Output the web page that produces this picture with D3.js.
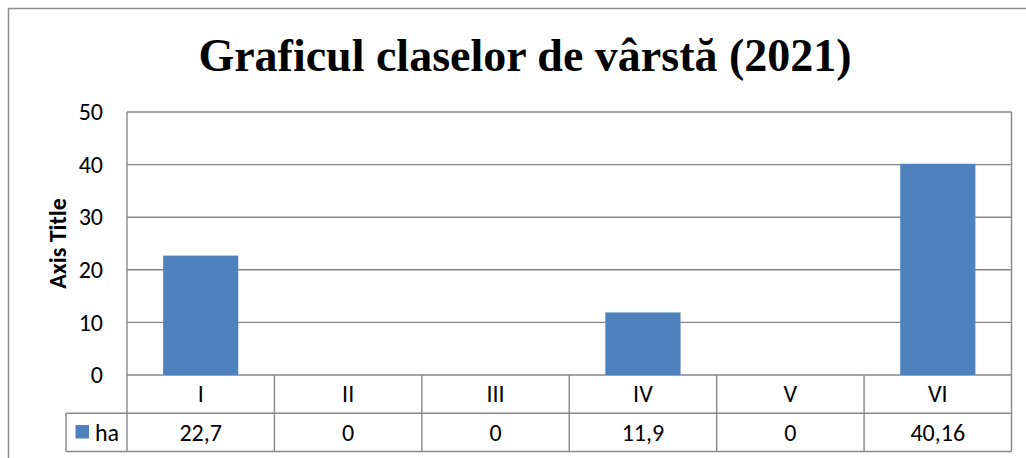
<!DOCTYPE html>
<html><head><meta charset="utf-8">
<script src="https://cdn.jsdelivr.net/npm/d3@7"></script>
<style>
html,body{margin:0;padding:0;background:#fff;}
svg{display:block;}
</style></head>
<body>
<svg id="chart" width="1026" height="458"></svg>
<script>
const title = "Graficul claselor de vârstă (2021)";
const categories = ["I","II","III","IV","V","VI"];
const seriesName = "ha";
const values = [22.7, 0, 0, 11.9, 0, 40.16];
const valueLabels = ["22,7","0","0","11,9","0","40,16"];
const yTicks = [0,10,20,30,40,50];
const yAxisTitle = "Axis Title";

const svg = d3.select("#chart");
const W = 1026, H = 458;
const bodyFont = "Carlito, Lato, 'Open Sans', sans-serif";
const fs = 24;
const gridColor = "#878787";
const barColor = "#4F81BD";

const plotL = 127, plotR = 1011.5, plotT = 112, plotB = 375;
const row1B = 413.3, row2B = 451.5, legL = 66;

const x = d3.scaleBand().domain(categories).range([plotL, plotR]).padding(0);
const xBar = d3.scaleBand().domain(categories).range([plotL, plotR]).paddingInner(0.49).paddingOuter(0.245);
const y = d3.scaleLinear().domain([0, 50]).range([plotB, plotT]);

// outer chart border (left and top visible)
svg.append("path").attr("d", `M8.5,${H} L8.5,8.5 L${W},8.5`)
  .attr("fill","none").attr("stroke","#8c8c8c").attr("stroke-width",1.5);

// title
svg.append("text").attr("x", 525).attr("y", 71).attr("text-anchor","middle")
  .attr("font-family","'Liberation Serif','Times New Roman',serif")
  .attr("font-weight","bold").attr("font-size",46).attr("fill","#000").text(title);

// gridlines
svg.append("g").selectAll("line").data(yTicks).join("line")
  .attr("x1", plotL).attr("x2", plotR)
  .attr("y1", d => y(d)).attr("y2", d => y(d))
  .attr("stroke", gridColor).attr("stroke-width", 1.4);

// y-axis via d3 axis (labels only)
const yAxis = svg.append("g").attr("transform", `translate(${plotL},0)`)
  .call(d3.axisLeft(y).tickValues(yTicks).tickSize(0).tickPadding(24).tickFormat(d3.format("d")));
yAxis.select(".domain").remove();
yAxis.selectAll("text").attr("font-family", bodyFont).attr("font-size", fs).attr("fill","#000");

// axis title
svg.append("text").attr("transform", `translate(66,${(plotT+plotB)/2}) rotate(-90)`)
  .attr("text-anchor","middle").attr("font-family", bodyFont).attr("font-weight","bold")
  .attr("font-size", fs).attr("fill","#000").text(yAxisTitle);

// bars
svg.append("g").selectAll("rect").data(values).join("rect")
  .attr("x", (d,i) => xBar(categories[i]))
  .attr("width", xBar.bandwidth())
  .attr("y", d => y(d))
  .attr("height", d => y(0) - y(d))
  .attr("fill", barColor);

// plot area border lines and data table grid
const tbl = svg.append("g").attr("stroke", gridColor).attr("stroke-width", 1.4).attr("fill","none");
tbl.append("line").attr("x1", plotL).attr("x2", plotL).attr("y1", plotT).attr("y2", row2B);
tbl.append("line").attr("x1", plotR).attr("x2", plotR).attr("y1", plotT).attr("y2", row2B);
tbl.selectAll("line.div").data(categories.slice(1)).join("line").attr("class","div")
  .attr("x1", d => x(d)).attr("x2", d => x(d)).attr("y1", plotB).attr("y2", row2B);
tbl.append("line").attr("x1", legL).attr("x2", plotR).attr("y1", row1B).attr("y2", row1B);
tbl.append("line").attr("x1", legL).attr("x2", plotR).attr("y1", row2B).attr("y2", row2B);
tbl.append("line").attr("x1", legL).attr("x2", legL).attr("y1", row1B).attr("y2", row2B);

// category labels
svg.append("g").selectAll("text").data(categories).join("text")
  .attr("x", d => x(d) + x.bandwidth()/2).attr("y", (plotB+row1B)/2)
  .attr("dy","0.34em").attr("text-anchor","middle")
  .attr("font-family", bodyFont).attr("font-size", fs).attr("fill","#000").text(d => d);

// value labels
svg.append("g").selectAll("text").data(valueLabels).join("text")
  .attr("x", (d,i) => x(categories[i]) + x.bandwidth()/2).attr("y", (row1B+row2B)/2)
  .attr("dy","0.34em").attr("text-anchor","middle")
  .attr("font-family", bodyFont).attr("font-size", fs).attr("fill","#000").text(d => d);

// legend key
svg.append("rect").attr("x", 75.5).attr("y", 425).attr("width", 13.5).attr("height", 13.5).attr("fill", barColor);
svg.append("text").attr("x", 95).attr("y", (row1B+row2B)/2).attr("dy","0.34em")
  .attr("font-family", bodyFont).attr("font-size", fs).attr("fill","#000").text(seriesName);
</script>
</body></html>
